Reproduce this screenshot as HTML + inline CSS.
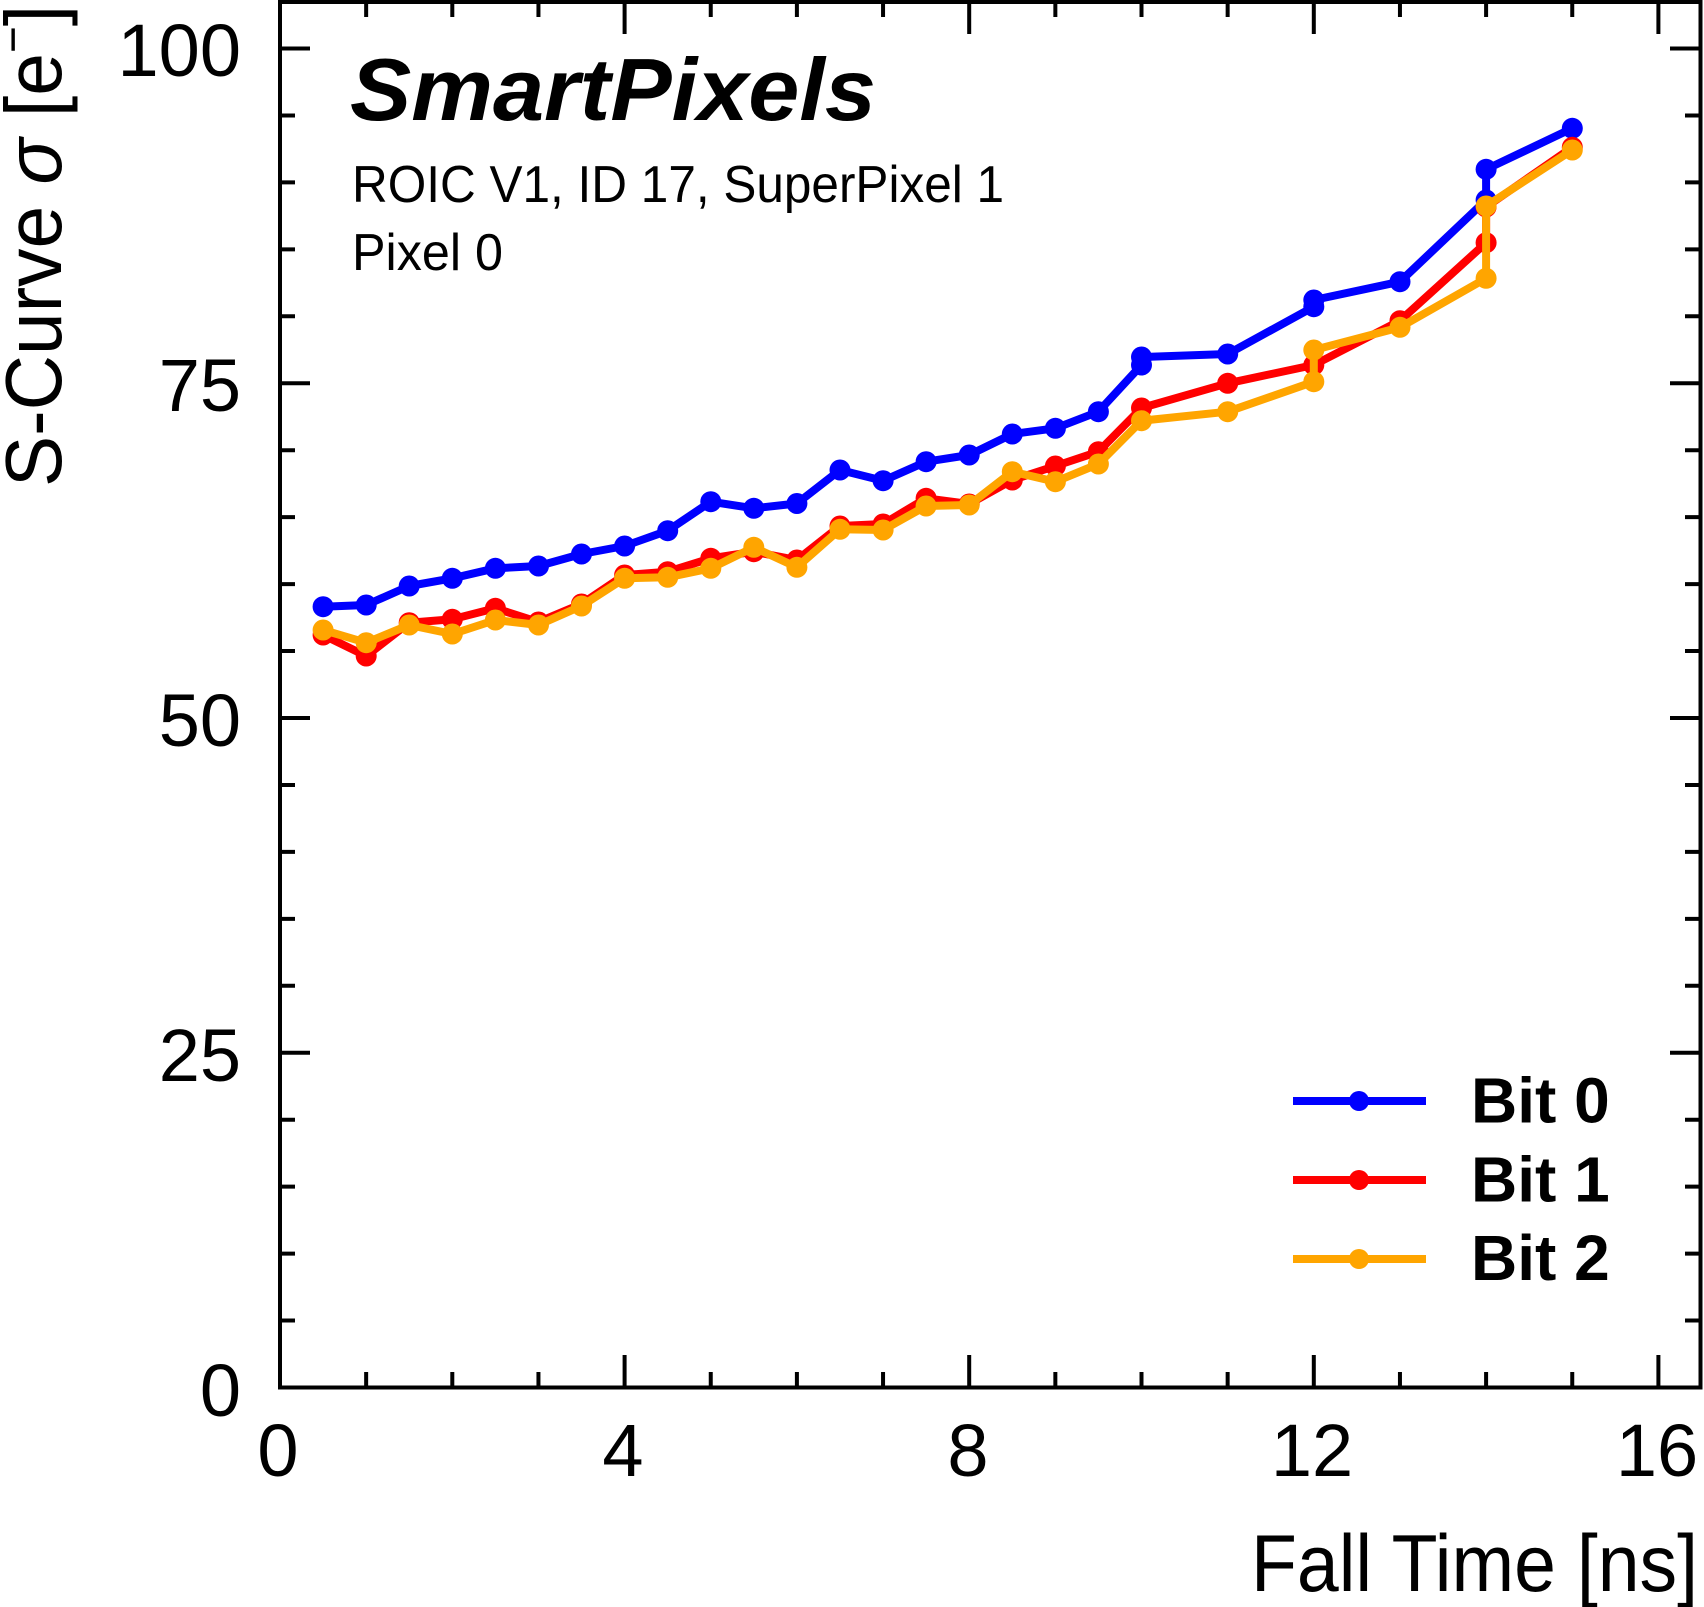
<!DOCTYPE html>
<html>
<head>
<meta charset="utf-8">
<style>
html,body{margin:0;padding:0;background:#fff;}
body{width:1704px;height:1607px;overflow:hidden;}
svg{display:block;}
text{font-family:"Liberation Sans",Arial,Helvetica,sans-serif;fill:#000;}
</style>
</head>
<body>
<svg width="1704" height="1607" viewBox="0 0 1704 1607" xmlns="http://www.w3.org/2000/svg">
<rect x="0" y="0" width="1704" height="1607" fill="#fff"/>

<!-- Series: Bit 0 (blue) -->
<g fill="none" stroke="#0000ff" stroke-width="8" stroke-linejoin="round" stroke-linecap="round">
<polyline points="323.1,606.7 366.2,605 409.2,586 452.3,578.3 495.4,568.3 538.5,566 581.5,554 624.6,546 667.7,530.7 710.8,501.7 753.8,508.3 796.9,503.5 840,470 883.1,480.7 926.1,461.7 969.2,455 1012.3,434 1055.4,428.3 1098.4,411.7 1141.5,365 1141.5,357 1227.7,354 1313.8,306.7 1313.8,300 1400,281.7 1486.1,200 1486.1,169.3 1572.3,128.3"/>
</g>
<g fill="#0000ff">
<circle cx="323.1" cy="606.7" r="10.5"/><circle cx="366.2" cy="605" r="10.5"/><circle cx="409.2" cy="586" r="10.5"/><circle cx="452.3" cy="578.3" r="10.5"/><circle cx="495.4" cy="568.3" r="10.5"/><circle cx="538.5" cy="566" r="10.5"/><circle cx="581.5" cy="554" r="10.5"/><circle cx="624.6" cy="546" r="10.5"/><circle cx="667.7" cy="530.7" r="10.5"/><circle cx="710.8" cy="501.7" r="10.5"/><circle cx="753.8" cy="508.3" r="10.5"/><circle cx="796.9" cy="503.5" r="10.5"/><circle cx="840" cy="470" r="10.5"/><circle cx="883.1" cy="480.7" r="10.5"/><circle cx="926.1" cy="461.7" r="10.5"/><circle cx="969.2" cy="455" r="10.5"/><circle cx="1012.3" cy="434" r="10.5"/><circle cx="1055.4" cy="428.3" r="10.5"/><circle cx="1098.4" cy="411.7" r="10.5"/><circle cx="1141.5" cy="365" r="10.5"/><circle cx="1141.5" cy="357" r="10.5"/><circle cx="1227.7" cy="354" r="10.5"/><circle cx="1313.8" cy="306.7" r="10.5"/><circle cx="1313.8" cy="300" r="10.5"/><circle cx="1400" cy="281.7" r="10.5"/><circle cx="1486.1" cy="200" r="10.5"/><circle cx="1486.1" cy="169.3" r="10.5"/><circle cx="1572.3" cy="128.3" r="10.5"/>
</g>

<!-- Series: Bit 1 (red) -->
<g fill="none" stroke="#ff0000" stroke-width="8" stroke-linejoin="round" stroke-linecap="round">
<polyline points="323.1,635 366.2,656 409.2,622.7 452.3,619.3 495.4,608.3 538.5,622 581.5,604 624.6,575 667.7,571.7 710.8,558.3 753.8,551.7 796.9,560 840,526 883.1,524 926.1,498.3 969.2,504 1012.3,480 1055.4,466 1098.4,451.7 1141.5,408 1227.7,383.3 1313.8,365 1400,320.7 1486.1,242.7 1486.1,207 1572.3,147.3"/>
</g>
<g fill="#ff0000">
<circle cx="323.1" cy="635" r="10.5"/><circle cx="366.2" cy="656" r="10.5"/><circle cx="409.2" cy="622.7" r="10.5"/><circle cx="452.3" cy="619.3" r="10.5"/><circle cx="495.4" cy="608.3" r="10.5"/><circle cx="538.5" cy="622" r="10.5"/><circle cx="581.5" cy="604" r="10.5"/><circle cx="624.6" cy="575" r="10.5"/><circle cx="667.7" cy="571.7" r="10.5"/><circle cx="710.8" cy="558.3" r="10.5"/><circle cx="753.8" cy="551.7" r="10.5"/><circle cx="796.9" cy="560" r="10.5"/><circle cx="840" cy="526" r="10.5"/><circle cx="883.1" cy="524" r="10.5"/><circle cx="926.1" cy="498.3" r="10.5"/><circle cx="969.2" cy="504" r="10.5"/><circle cx="1012.3" cy="480" r="10.5"/><circle cx="1055.4" cy="466" r="10.5"/><circle cx="1098.4" cy="451.7" r="10.5"/><circle cx="1141.5" cy="408" r="10.5"/><circle cx="1227.7" cy="383.3" r="10.5"/><circle cx="1313.8" cy="365" r="10.5"/><circle cx="1400" cy="320.7" r="10.5"/><circle cx="1486.1" cy="242.7" r="10.5"/><circle cx="1486.1" cy="207" r="10.5"/><circle cx="1572.3" cy="147.3" r="10.5"/>
</g>

<!-- Series: Bit 2 (orange) -->
<g fill="none" stroke="#ffa500" stroke-width="8" stroke-linejoin="round" stroke-linecap="round">
<polyline points="323.1,630 366.2,642.7 409.2,625 452.3,634 495.4,620 538.5,625 581.5,606 624.6,578.3 667.7,577.3 710.8,568.3 753.8,547.3 796.9,567.3 840,529.3 883.1,530 926.1,506 969.2,505 1012.3,471.7 1055.4,481.7 1098.4,464 1141.5,420.7 1227.7,411.7 1313.8,381.7 1313.8,350 1400,327.3 1486.1,278.3 1486.1,206 1572.3,150"/>
</g>
<g fill="#ffa500">
<circle cx="323.1" cy="630" r="10.5"/><circle cx="366.2" cy="642.7" r="10.5"/><circle cx="409.2" cy="625" r="10.5"/><circle cx="452.3" cy="634" r="10.5"/><circle cx="495.4" cy="620" r="10.5"/><circle cx="538.5" cy="625" r="10.5"/><circle cx="581.5" cy="606" r="10.5"/><circle cx="624.6" cy="578.3" r="10.5"/><circle cx="667.7" cy="577.3" r="10.5"/><circle cx="710.8" cy="568.3" r="10.5"/><circle cx="753.8" cy="547.3" r="10.5"/><circle cx="796.9" cy="567.3" r="10.5"/><circle cx="840" cy="529.3" r="10.5"/><circle cx="883.1" cy="530" r="10.5"/><circle cx="926.1" cy="506" r="10.5"/><circle cx="969.2" cy="505" r="10.5"/><circle cx="1012.3" cy="471.7" r="10.5"/><circle cx="1055.4" cy="481.7" r="10.5"/><circle cx="1098.4" cy="464" r="10.5"/><circle cx="1141.5" cy="420.7" r="10.5"/><circle cx="1227.7" cy="411.7" r="10.5"/><circle cx="1313.8" cy="381.7" r="10.5"/><circle cx="1313.8" cy="350" r="10.5"/><circle cx="1400" cy="327.3" r="10.5"/><circle cx="1486.1" cy="278.3" r="10.5"/><circle cx="1486.1" cy="206" r="10.5"/><circle cx="1572.3" cy="150" r="10.5"/>
</g>

<!-- Frame -->
<rect x="280" y="2" width="1420.5" height="1385.5" fill="none" stroke="#000" stroke-width="4"/>

<!-- Y ticks (left & right) -->
<path fill="none" stroke="#000" stroke-width="4" d="
M280 1387.5H310 M280 1320.55H295 M280 1253.6H295 M280 1186.65H295 M280 1119.7H295
M280 1052.75H310 M280 985.8H295 M280 918.85H295 M280 851.9H295 M280 784.95H295
M280 718H310 M280 651.05H295 M280 584.1H295 M280 517.15H295 M280 450.2H295
M280 383.25H310 M280 316.3H295 M280 249.35H295 M280 182.4H295 M280 115.45H295
M280 48.5H310
M1700.5 1387.5H1670 M1700.5 1320.55H1685 M1700.5 1253.6H1685 M1700.5 1186.65H1685 M1700.5 1119.7H1685
M1700.5 1052.75H1670 M1700.5 985.8H1685 M1700.5 918.85H1685 M1700.5 851.9H1685 M1700.5 784.95H1685
M1700.5 718H1670 M1700.5 651.05H1685 M1700.5 584.1H1685 M1700.5 517.15H1685 M1700.5 450.2H1685
M1700.5 383.25H1670 M1700.5 316.3H1685 M1700.5 249.35H1685 M1700.5 182.4H1685 M1700.5 115.45H1685
M1700.5 48.5H1670
"/>

<!-- X ticks (bottom & top) -->
<path fill="none" stroke="#000" stroke-width="4" d="
M366.15 1387.5V1372 M452.3 1387.5V1372 M538.45 1387.5V1372 M624.6 1387.5V1355
M710.75 1387.5V1372 M796.9 1387.5V1372 M883.05 1387.5V1372 M969.2 1387.5V1355
M1055.35 1387.5V1372 M1141.5 1387.5V1372 M1227.65 1387.5V1372 M1313.8 1387.5V1355
M1399.95 1387.5V1372 M1486.1 1387.5V1372 M1572.25 1387.5V1372 M1658.4 1387.5V1355
M366.15 2V17 M452.3 2V17 M538.45 2V17 M624.6 2V34
M710.75 2V17 M796.9 2V17 M883.05 2V17 M969.2 2V34
M1055.35 2V17 M1141.5 2V17 M1227.65 2V17 M1313.8 2V34
M1399.95 2V17 M1486.1 2V17 M1572.25 2V17 M1658.4 2V34
"/>

<!-- Y tick labels -->
<g font-size="74" text-anchor="end">
<text x="241" y="1416">0</text>
<text x="241" y="1081">25</text>
<text x="241" y="746">50</text>
<text x="241" y="411">75</text>
<text x="241" y="76">100</text>
</g>

<!-- X tick labels -->
<g font-size="74" text-anchor="middle">
<text x="278" y="1476">0</text>
<text x="623" y="1476">4</text>
<text x="968" y="1476">8</text>
<text x="1312" y="1476">12</text>
<text x="1657" y="1476">16</text>
</g>

<!-- Axis titles -->
<text x="1251" y="1591" font-size="81" textLength="447" lengthAdjust="spacingAndGlyphs">Fall Time [ns]</text>
<text transform="translate(61,5) rotate(-90)" text-anchor="end" font-size="80" textLength="482" lengthAdjust="spacingAndGlyphs">S-Curve <tspan font-style="italic">σ</tspan> [e<tspan dy="-32" font-size="48">−</tspan><tspan dy="32">]</tspan></text>

<!-- Labels -->
<text x="350" y="120" font-size="88" font-weight="bold" font-style="italic" textLength="526" lengthAdjust="spacingAndGlyphs">SmartPixels</text>
<text x="352" y="202" font-size="52" textLength="652" lengthAdjust="spacingAndGlyphs">ROIC V1, ID 17, SuperPixel 1</text>
<text x="352" y="270" font-size="52" textLength="151" lengthAdjust="spacingAndGlyphs">Pixel 0</text>

<!-- Legend -->
<g stroke-width="8">
<line x1="1293" y1="1101" x2="1426" y2="1101" stroke="#0000ff"/>
<line x1="1293" y1="1180" x2="1426" y2="1180" stroke="#ff0000"/>
<line x1="1293" y1="1259" x2="1426" y2="1259" stroke="#ffa500"/>
</g>
<circle cx="1359" cy="1101" r="10" fill="#0000ff"/>
<circle cx="1359" cy="1180" r="10" fill="#ff0000"/>
<circle cx="1359" cy="1259" r="10" fill="#ffa500"/>
<g font-size="64" font-weight="bold">
<text x="1471" y="1122.7">Bit 0</text>
<text x="1471" y="1201.7">Bit 1</text>
<text x="1471" y="1280">Bit 2</text>
</g>
</svg>
</body>
</html>
